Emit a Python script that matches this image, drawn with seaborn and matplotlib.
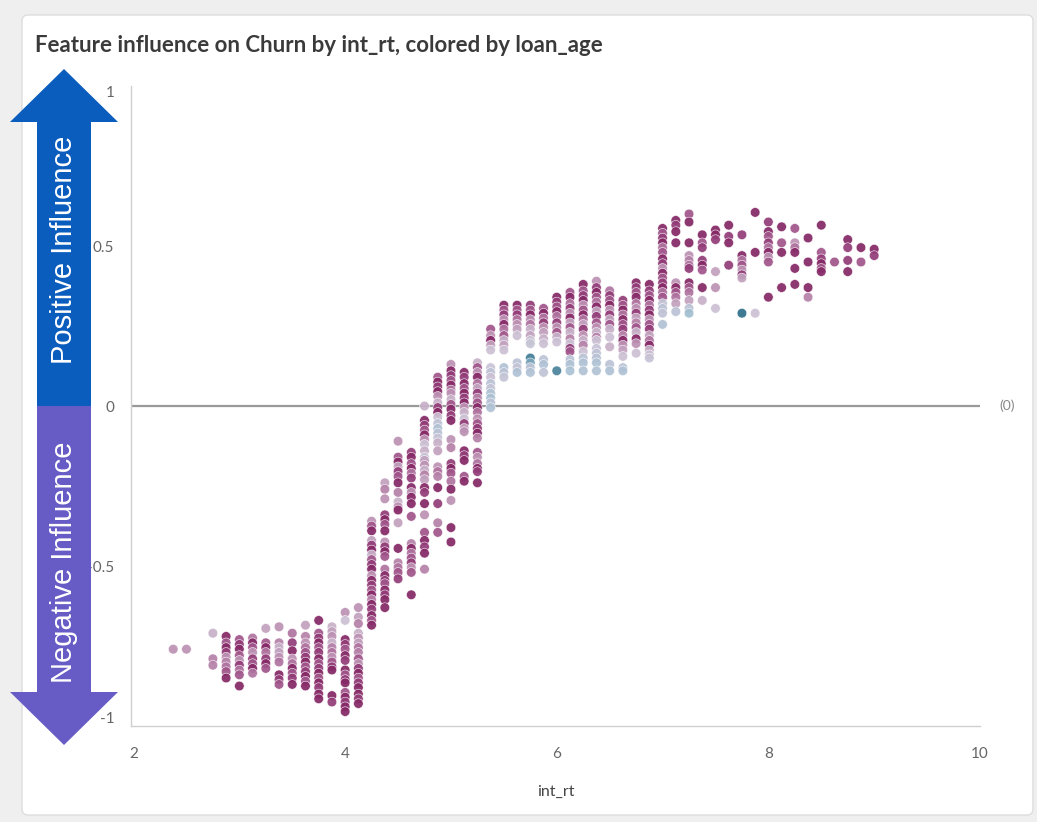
import pandas as pd
import seaborn as sns
import matplotlib.pyplot as plt
from matplotlib.colors import LinearSegmentedColormap
from matplotlib.patches import Polygon, FancyBboxPatch

# int_rt columns and the SHAP values (feature influence) read per column
int_rt_values = [2.375, 2.5, 2.75, 2.875, 3.0, 3.125, 3.25, 3.375, 3.5, 3.625, 3.75, 3.875,
                 4.0, 4.125, 4.25, 4.375, 4.5, 4.625, 4.75, 4.875, 5.0, 5.125, 5.25, 5.375,
                 5.5, 5.625, 5.75, 5.875, 6.0, 6.125, 6.25, 6.375, 6.5, 6.625, 6.75, 6.875,
                 7.0, 7.125, 7.25, 7.375, 7.5, 7.625, 7.75, 7.875, 8.0, 8.125, 8.25, 8.375,
                 8.5, 8.625, 8.75, 8.875, 9.0]

shap_by_rate = [
    [-0.76],
    [-0.76],
    [-0.71, -0.79, -0.81],
    [-0.72, -0.74, -0.755, -0.77, -0.785, -0.80, -0.815, -0.83, -0.85],
    [-0.73, -0.745, -0.76, -0.78, -0.795, -0.81, -0.825, -0.84, -0.875],
    [-0.725, -0.74, -0.755, -0.77, -0.79, -0.805, -0.82, -0.835],
    [-0.695, -0.74, -0.755, -0.77, -0.79, -0.805, -0.82],
    [-0.69, -0.74, -0.755, -0.77, -0.785, -0.80, -0.84, -0.855, -0.87],
    [-0.71, -0.74, -0.765, -0.79, -0.805, -0.82, -0.835, -0.85, -0.87],
    [-0.685, -0.72, -0.74, -0.755, -0.77, -0.785, -0.80, -0.815, -0.83, -0.845, -0.86, -0.875],
    [-0.67, -0.71, -0.725, -0.74, -0.755, -0.77, -0.79, -0.805, -0.82, -0.835, -0.85, -0.865,
     -0.88, -0.90, -0.915],
    [-0.69, -0.705, -0.72, -0.74, -0.755, -0.77, -0.785, -0.80, -0.815, -0.825, -0.905, -0.925],
    [-0.645, -0.67, -0.73, -0.745, -0.76, -0.78, -0.795, -0.825, -0.84, -0.855, -0.865, -0.895,
     -0.91, -0.925, -0.94, -0.955],
    [-0.63, -0.66, -0.68, -0.71, -0.725, -0.74, -0.755, -0.77, -0.79, -0.805, -0.82, -0.835,
     -0.85, -0.865, -0.88, -0.90, -0.915, -0.93],
    [-0.36, -0.375, -0.39, -0.42, -0.435, -0.45, -0.465, -0.48, -0.495, -0.51, -0.53, -0.545,
     -0.56, -0.575, -0.59, -0.605, -0.62, -0.635, -0.655, -0.67, -0.685],
    [-0.24, -0.26, -0.29, -0.34, -0.355, -0.37, -0.39, -0.425, -0.44, -0.455, -0.47, -0.51,
     -0.53, -0.545, -0.555, -0.575, -0.59, -0.605, -0.63],
    [-0.11, -0.16, -0.175, -0.19, -0.205, -0.22, -0.24, -0.27, -0.30, -0.315, -0.325, -0.365,
     -0.445, -0.49, -0.505, -0.52, -0.54],
    [-0.145, -0.16, -0.18, -0.195, -0.21, -0.225, -0.255, -0.27, -0.285, -0.305, -0.345, -0.43,
     -0.445, -0.46, -0.475, -0.49, -0.505, -0.52, -0.59],
    [0.0, -0.045, -0.06, -0.075, -0.09, -0.105, -0.12, -0.14, -0.16, -0.17, -0.185, -0.20,
     -0.215, -0.23, -0.255, -0.27, -0.305, -0.34, -0.395, -0.42, -0.44, -0.46, -0.51],
    [0.09, 0.075, 0.06, 0.045, 0.03, 0.01, -0.005, -0.02, -0.035, -0.055, -0.07, -0.085,
     -0.10, -0.115, -0.14, -0.19, -0.205, -0.22, -0.255, -0.305, -0.365, -0.395],
    [0.13, 0.11, 0.095, 0.08, 0.065, 0.05, 0.04, 0.02, 0.005, -0.01, -0.03, -0.045,
     -0.105, -0.13, -0.18, -0.195, -0.21, -0.235, -0.26, -0.295, -0.38, -0.425],
    [0.105, 0.09, 0.07, 0.055, 0.04, 0.025, 0.01, -0.005, -0.02, -0.04, -0.055, -0.07,
     -0.08, -0.14, -0.155, -0.17, -0.22, -0.235],
    [0.135, 0.12, 0.105, 0.09, 0.07, 0.055, 0.04, 0.025, 0.01, -0.005, -0.02, -0.04,
     -0.055, -0.07, -0.085, -0.10, -0.145, -0.16, -0.18, -0.195, -0.205, -0.24],
    [0.24, 0.22, 0.205, 0.19, 0.175, 0.12, 0.105, 0.09, 0.07, 0.055, 0.04, 0.025, 0.01, -0.005],
    [0.315, 0.30, 0.285, 0.27, 0.255, 0.24, 0.22, 0.205, 0.19, 0.175, 0.12, 0.105, 0.09],
    [0.315, 0.30, 0.285, 0.27, 0.255, 0.24, 0.22, 0.135, 0.12, 0.105],
    [0.315, 0.30, 0.285, 0.27, 0.255, 0.24, 0.22, 0.205, 0.195, 0.15, 0.135, 0.12, 0.105],
    [0.305, 0.29, 0.275, 0.26, 0.245, 0.23, 0.21, 0.195, 0.145, 0.13, 0.105],
    [0.34, 0.325, 0.31, 0.295, 0.28, 0.26, 0.245, 0.23, 0.215, 0.20, 0.11],
    [0.355, 0.34, 0.32, 0.305, 0.29, 0.275, 0.26, 0.245, 0.23, 0.21, 0.195, 0.18, 0.17,
     0.145, 0.13, 0.11],
    [0.38, 0.36, 0.345, 0.33, 0.315, 0.30, 0.285, 0.27, 0.255, 0.24, 0.22, 0.205, 0.19,
     0.17, 0.15, 0.135, 0.11],
    [0.39, 0.37, 0.355, 0.34, 0.325, 0.31, 0.295, 0.28, 0.26, 0.245, 0.23, 0.215, 0.205,
     0.18, 0.165, 0.15, 0.135, 0.11],
    [0.36, 0.345, 0.33, 0.315, 0.30, 0.285, 0.27, 0.255, 0.24, 0.215, 0.185, 0.13, 0.11],
    [0.33, 0.315, 0.30, 0.285, 0.27, 0.255, 0.24, 0.22, 0.205, 0.19, 0.175, 0.155, 0.12, 0.11],
    [0.385, 0.37, 0.355, 0.34, 0.32, 0.305, 0.29, 0.275, 0.26, 0.245, 0.23, 0.21, 0.195, 0.165],
    [0.38, 0.36, 0.345, 0.33, 0.315, 0.30, 0.285, 0.27, 0.255, 0.24, 0.22, 0.205, 0.19,
     0.175, 0.16, 0.15],
    [0.555, 0.54, 0.525, 0.51, 0.495, 0.48, 0.46, 0.445, 0.43, 0.415, 0.40, 0.385, 0.37,
     0.355, 0.34, 0.32, 0.305, 0.29, 0.255],
    [0.58, 0.565, 0.545, 0.51, 0.385, 0.37, 0.355, 0.34, 0.32, 0.295],
    [0.60, 0.575, 0.51, 0.47, 0.455, 0.44, 0.43, 0.385, 0.37, 0.355, 0.33, 0.305, 0.29],
    [0.535, 0.51, 0.495, 0.455, 0.44, 0.425, 0.37, 0.33],
    [0.55, 0.535, 0.52, 0.42, 0.37, 0.305],
    [0.565, 0.53, 0.51, 0.44],
    [0.535, 0.47, 0.455, 0.44, 0.425, 0.41, 0.40, 0.29],
    [0.605, 0.48, 0.29],
    [0.575, 0.545, 0.53, 0.51, 0.495, 0.48, 0.465, 0.45, 0.34],
    [0.56, 0.51, 0.48, 0.37],
    [0.555, 0.51, 0.495, 0.48, 0.43, 0.38],
    [0.525, 0.45, 0.37, 0.34],
    [0.565, 0.48, 0.46, 0.445, 0.43, 0.42],
    [0.45],
    [0.52, 0.495, 0.455, 0.42],
    [0.495, 0.45],
    [0.49, 0.47],
]

loan_age_by_rate = [
    [70],
    [70],
    [60, 75, 75],
    [110, 90, 110, 100, 70, 75, 80, 90, 110],
    [90, 100, 110, 90, 70, 100, 80, 90, 110],
    [80, 110, 90, 70, 100, 90, 110, 80],
    [65, 90, 110, 80, 100, 110, 90],
    [70, 75, 60, 65, 70, 80, 110, 100, 90],
    [80, 100, 110, 70, 80, 110, 90, 100, 110],
    [65, 75, 70, 80, 90, 100, 110, 90, 100, 110, 90, 110],
    [110, 90, 100, 110, 90, 100, 110, 90, 100, 110, 90, 110, 100, 110, 110],
    [60, 65, 70, 60, 75, 80, 70, 90, 100, 110, 110, 100],
    [70, 55, 110, 100, 90, 110, 100, 110, 90, 100, 110, 90, 110, 100, 110, 110],
    [70, 65, 75, 60, 70, 65, 80, 75, 90, 70, 100, 110, 90, 100, 110, 110, 100, 110],
    [70, 90, 110, 65, 100, 110, 60, 90, 100, 110, 70, 110, 100, 90, 110, 75, 110, 100, 110, 90, 110],
    [65, 75, 70, 100, 110, 90, 110, 70, 100, 110, 90, 80, 110, 100, 90, 110, 100, 110, 110],
    [70, 90, 110, 65, 100, 90, 110, 75, 60, 70, 110, 65, 110, 75, 80, 90, 100],
    [100, 110, 90, 110, 80, 100, 110, 70, 110, 110, 90, 75, 110, 80, 90, 100, 70, 90, 110],
    [60, 110, 100, 90, 110, 70, 55, 60, 52, 65, 70, 60, 75, 65, 110, 100, 110, 70, 90, 110,
     100, 110, 75],
    [90, 110, 100, 110, 70, 60, 100, 110, 55, 48, 42, 45, 52, 60, 65, 70, 80, 75, 110, 100, 75, 90],
    [70, 110, 100, 90, 110, 80, 70, 60, 90, 110, 100, 110, 70, 75, 100, 110, 90, 80, 110, 70,
     110, 110],
    [110, 100, 110, 90, 110, 100, 110, 70, 60, 55, 100, 65, 70, 110, 100, 110, 90, 110],
    [60, 90, 70, 110, 80, 65, 100, 75, 90, 110, 80, 70, 90, 100, 110, 75, 90, 70, 80, 110,
     100, 110],
    [90, 70, 110, 65, 55, 52, 48, 55, 45, 50, 42, 38, 45, 40],
    [110, 90, 100, 70, 110, 80, 90, 60, 65, 55, 40, 45, 50],
    [110, 90, 100, 80, 70, 65, 55, 45, 50, 40],
    [100, 90, 110, 70, 80, 60, 65, 55, 50, 10, 25, 45, 40],
    [90, 110, 80, 100, 70, 65, 60, 55, 45, 40, 48],
    [110, 100, 90, 110, 80, 100, 70, 90, 60, 55, 12],
    [90, 110, 80, 100, 70, 110, 65, 90, 60, 75, 55, 100, 90, 45, 40, 38],
    [110, 90, 100, 110, 70, 90, 110, 80, 65, 100, 70, 60, 75, 55, 45, 40, 42],
    [70, 100, 110, 90, 80, 110, 65, 100, 90, 70, 60, 75, 55, 52, 48, 45, 40, 42],
    [80, 100, 90, 110, 70, 100, 65, 90, 60, 55, 60, 45, 40],
    [100, 90, 110, 80, 110, 90, 100, 75, 110, 70, 65, 55, 45, 40],
    [110, 100, 90, 110, 80, 70, 100, 65, 75, 90, 60, 110, 70, 55],
    [110, 100, 90, 110, 80, 100, 110, 70, 90, 100, 65, 80, 110, 60, 55, 52],
    [110, 90, 100, 110, 80, 90, 110, 100, 70, 110, 90, 100, 110, 80, 90, 50, 45, 48, 42],
    [110, 100, 110, 110, 70, 110, 90, 80, 65, 45],
    [90, 110, 110, 70, 75, 80, 100, 110, 90, 80, 65, 45, 35],
    [110, 90, 100, 100, 110, 90, 110, 60],
    [110, 110, 100, 65, 70, 55],
    [110, 100, 110, 100],
    [100, 110, 80, 90, 70, 100, 65, 5],
    [110, 110, 55],
    [100, 110, 90, 100, 80, 110, 70, 90, 110],
    [110, 90, 110, 110],
    [90, 70, 80, 110, 110, 110],
    [110, 110, 110, 75],
    [110, 90, 100, 110, 90, 110],
    [90],
    [110, 100, 100, 110],
    [110, 90],
    [110, 100],
]

y_ticks = [-1, -0.5, 0, 0.5, 1]
x_ticks = [2, 4, 6, 8, 10]

rows = []
for rate, shaps, ages in zip(int_rt_values, shap_by_rate, loan_age_by_rate):
    for s, a in zip(shaps, ages):
        rows.append((rate, s, a))
df = pd.DataFrame(rows, columns=['int_rt', 'shap', 'loan_age'])

sns.set_style('white')
plt.rcParams['font.family'] = ['Lato', 'DejaVu Sans']

cmap = LinearSegmentedColormap.from_list(
    'loan_age', [(0.0, '#1d6580'), (0.3, '#a6c2d3'), (0.45, '#cdc4d6'),
                 (0.6, '#bb8cb0'), (0.8, '#994580'), (1.0, '#781656')])

W, H = 1037, 822
fig = plt.figure(figsize=(W / 100, H / 100), dpi=100, facecolor='#efefef')

# card background + title
bg = fig.add_axes([0, 0, 1, 1], zorder=0)
bg.set_xlim(0, W)
bg.set_ylim(H, 0)
bg.axis('off')
bg.add_patch(FancyBboxPatch((22, 15), 1011, 800, boxstyle='round,pad=0,rounding_size=6',
                            facecolor='white', edgecolor='#dddddd', linewidth=1))
bg.text(35, 45, 'Feature influence on Churn by int_rt, colored by loan_age',
        fontsize=16, fontweight='bold', color='#3a3a3a', ha='left', va='center')

ax = fig.add_axes([131 / W, 1 - 726 / H, (980 - 131) / W, (726 - 86) / H], zorder=1)
ax.patch.set_alpha(0)

ax.axhline(0, color='#9a9a9a', linewidth=1.6, zorder=1)
sns.scatterplot(data=df, x='int_rt', y='shap', hue='loan_age', palette=cmap,
                hue_norm=(0, 120), s=48, alpha=0.93, edgecolor='white',
                linewidth=0.4, legend=False, ax=ax, zorder=2)

ax.set_xlim(1.976, 10)
ax.set_ylim(-1, 1)
ax.set_xticks(x_ticks)
ax.set_xticklabels([str(t) for t in x_ticks])
ax.set_yticks(y_ticks)
ax.set_yticklabels(['-1', '-0.5', '0', '0.5', '1'])
labels = ax.get_yticklabels()
labels[0].set_va('bottom')
labels[-1].set_va('top')

ax.tick_params(axis='both', colors='#cccccc', labelcolor='#666666', labelsize=11,
               length=7, width=1)
ax.tick_params(axis='x', pad=8)
ax.tick_params(axis='y', pad=5)
sns.despine(ax=ax)
for side in ['left', 'bottom']:
    ax.spines[side].set_color('#d0d0d0')
    ax.spines[side].set_linewidth(1)

ax.set_xlabel('int_rt', fontsize=11.5, color='#444444', labelpad=17)
ax.set_ylabel('')
ax.text(1.032, 0, '(0)', transform=ax.get_yaxis_transform(), ha='center', va='center',
        fontsize=10, color='#888888')

# influence arrows on top
ov = fig.add_axes([0, 0, 1, 1], zorder=3)
ov.set_xlim(0, W)
ov.set_ylim(H, 0)
ov.axis('off')
ov.patch.set_alpha(0)
ov.add_patch(Polygon([(37, 407), (37, 122), (10, 122), (64, 69), (118, 122), (91, 122), (91, 407)],
                     closed=True, facecolor='#0a5cbd', edgecolor='none'))
ov.add_patch(Polygon([(37, 406), (37, 692), (10, 692), (64, 745), (118, 692), (91, 692), (91, 406)],
                     closed=True, facecolor='#675cc5', edgecolor='none'))
ov.text(64, 250, 'Positive Influence', rotation=90, ha='center', va='center',
        color='white', fontsize=21, family=['Liberation Sans', 'DejaVu Sans'])
ov.text(64, 562, 'Negative Influence', rotation=90, ha='center', va='center',
        color='white', fontsize=21, family=['Liberation Sans', 'DejaVu Sans'])

fig.savefig('out.png', dpi=100, facecolor=fig.get_facecolor())
